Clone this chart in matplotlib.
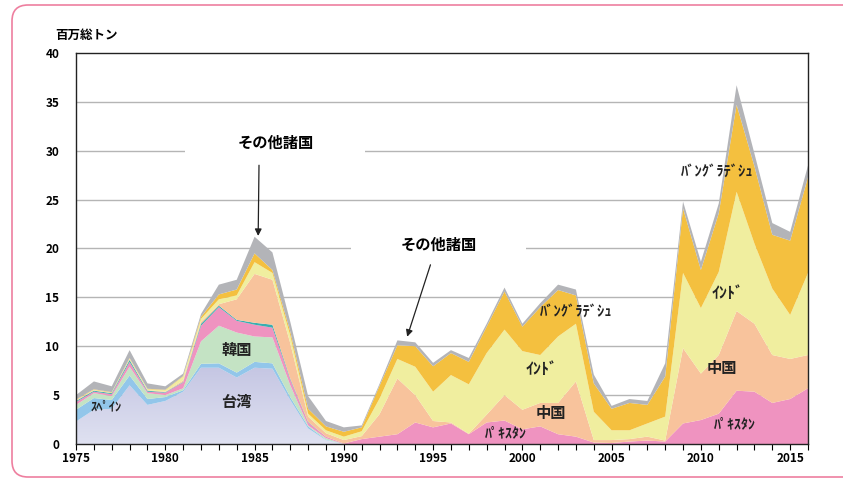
import numpy as np
import matplotlib
matplotlib.use('Agg')
import matplotlib.pyplot as plt
from matplotlib.patches import FancyBboxPatch, Rectangle
from matplotlib.colors import LinearSegmentedColormap

plt.rcParams['font.family'] = ['Noto Sans CJK JP', 'DejaVu Sans']

years = list(range(1975, 2017))

# 百万総トン, layer values (not cumulative)
taiwan = [2.3, 3.5, 3.6, 6.0, 4.0, 4.4, 5.35, 7.8, 7.8, 6.8, 7.8, 7.7, 4.5, 1.6, 0.4,
          0, 0, 0, 0, 0, 0, 0, 0, 0, 0, 0, 0, 0, 0, 0, 0, 0, 0, 0, 0, 0, 0, 0, 0, 0, 0, 0]
spain = [1.2, 1.2, 0.9, 1.0, 0.6, 0.4, 0.15, 0.4, 0.45, 0.5, 0.6, 0.55, 0.3, 0.2, 0.05,
         0, 0, 0, 0, 0, 0, 0, 0, 0, 0, 0, 0, 0, 0, 0, 0, 0, 0, 0, 0, 0, 0, 0, 0, 0, 0, 0]
korea = [0.5, 0.5, 0.4, 0.9, 0.6, 0.2, 0.2, 2.3, 3.85, 4.1, 2.6, 2.65, 1.2, 0.1, 0.15,
         0, 0, 0, 0, 0, 0, 0, 0, 0, 0, 0, 0, 0, 0, 0, 0, 0, 0, 0, 0, 0, 0, 0, 0, 0, 0, 0]
pakistan = [0.3, 0.15, 0.2, 0.5, 0.15, 0.25, 0.6, 1.6, 1.9, 1.2, 1.2, 1.0, 0.6, 0.3, 0.15,
            0.05, 0.5, 0.75, 1.0, 2.2, 1.7, 2.1, 1.0, 2.2, 2.4, 1.5, 1.8, 1.0, 0.75, 0.15,
            0.1, 0.25, 0.35, 0.25, 2.1, 2.45, 3.1, 5.45, 5.35, 4.2, 4.6, 5.7]
others_teal = [0.1, 0.1, 0.1, 0.2, 0.1, 0.05, 0.05, 0.2, 0.15, 0.1, 0.2, 0.3, 0.1, 0.05, 0,
               0, 0, 0, 0, 0, 0, 0, 0, 0, 0, 0, 0, 0, 0, 0, 0, 0, 0, 0, 0, 0, 0, 0, 0, 0, 0, 0]
china = [0.05, 0.05, 0, 0.05, 0.05, 0.05, 0.15, 0.2, 0.15, 2.1, 5.0, 4.6, 3.6, 0.55, 0.35,
         0.35, 0.3, 2.3, 5.7, 2.8, 0.65, 0.1, 0.05, 0.8, 2.6, 2.0, 2.4, 3.2, 5.65, 0.25,
         0.3, 0.25, 0.4, 0.1, 7.7, 4.75, 6.0, 8.15, 6.95, 4.9, 4.1, 3.4]
india = [0.05, 0.05, 0.05, 0.1, 0.1, 0.15, 0.4, 0.3, 0.5, 0.4, 1.2, 0.7, 0.8, 0.3, 0.3,
         0.35, 0.5, 1.6, 2.0, 2.9, 3.0, 4.85, 5.05, 6.3, 6.7, 6.0, 4.9, 6.8, 5.9, 2.9,
         1.0, 0.9, 1.35, 2.45, 7.7, 6.7, 8.5, 12.2, 8.2, 6.8, 4.5, 8.4]
bangladesh = [0.05, 0.05, 0.05, 0.05, 0.05, 0.05, 0.05, 0.2, 0.5, 0.6, 0.9, 0.3, 0.4, 0.5, 0.4,
              0.5, 0.4, 1.3, 1.4, 2.1, 2.6, 2.25, 2.3, 2.7, 3.9, 2.5, 4.9, 4.75, 2.9, 2.9,
              2.2, 2.8, 1.9, 4.1, 6.6, 3.9, 6.0, 8.9, 7.9, 5.5, 7.6, 9.8]
others = [0.45, 0.8, 0.6, 0.8, 0.55, 0.35, 0.25, 0.3, 1.0, 1.0, 1.7, 1.8, 1.0, 1.3, 0.55,
          0.45, 0.2, 0.2, 0.5, 0.4, 0.35, 0.3, 0.4, 0.3, 0.4, 0.3, 0.4, 0.55, 0.6, 0.9,
          0.3, 0.4, 0.4, 1.35, 0.7, 0.85, 1.0, 2.0, 1.3, 1.2, 0.9, 1.2]

layers = [taiwan, spain, korea, pakistan, others_teal, china, india, bangladesh, others]
colors = ['none', '#92c6ea', '#c4e3c4', '#ef93c0', '#3aaeb0', '#f8c39c', '#f0ee9f', '#f4c03f', '#b3b4b8']

fig = plt.figure(figsize=(8.43, 4.79), dpi=100)
# pink rounded frame
fig.patches.append(FancyBboxPatch((0.12, 0.02), 8.6, 4.72, boxstyle='round,pad=0,rounding_size=0.16',
                                  transform=fig.dpi_scale_trans, facecolor='white',
                                  edgecolor='#ee7f9f', linewidth=1.2, zorder=-1))
ax = fig.add_axes([0.0902, 0.0731, 0.8683, 0.8163])
ax.set_facecolor('none')

x = np.array(years)
bottom = np.zeros(len(years))
for vals, c in zip(layers, colors):
    top = bottom + np.array(vals)
    poly = ax.fill_between(x, bottom, top, facecolor=c, linewidth=0, zorder=2)
    if c == 'none':
        # 台湾: soft vertical gradient clipped to the area
        cmap = LinearSegmentedColormap.from_list('tw', ['#dfe1f1', '#c3c4e2'])
        grad = np.linspace(0, 1, 256).reshape(-1, 1)
        img = ax.imshow(grad, extent=[1975, 2016, 0, 8.5], origin='lower', aspect='auto',
                        cmap=cmap, zorder=2)
        img.set_clip_path(poly.get_paths()[0], transform=ax.transData)
    bottom = top

for yv in range(5, 40, 5):
    ax.axhline(yv, color='#b5b5b5', linewidth=1.0, zorder=0)

# white boxes behind labels (break the gridlines)
ax.add_patch(Rectangle((1981.1, 26.5), 10.1, 6.0, facecolor='white', edgecolor='none', zorder=1))
ax.add_patch(Rectangle((1990.4, 17.5), 9.8, 5.5, facecolor='white', edgecolor='none', zorder=1))

ax.set_xlim(1975, 2016)
ax.set_ylim(0, 40)
ax.set_xticks(range(1975, 2016, 5))
ax.set_xticks(range(1975, 2017), minor=True)
ax.set_yticks(range(0, 41, 5))
ax.tick_params(axis='x', which='both', direction='out', length=4, width=0.8, labelsize=8.5, pad=2)
ax.tick_params(axis='y', length=0, labelsize=8.5, pad=12)
for lab in ax.get_xticklabels() + ax.get_yticklabels():
    lab.set_fontweight('bold')
for s in ax.spines.values():
    s.set_linewidth(1.0)
    s.set_color('#222222')
    s.set_zorder(5)

fig.text(0.065, 0.918, '百万総トン', fontsize=9, fontweight='bold')

# annotations
ax.annotate('', xy=(1985.2, 21.0), xytext=(1985.25, 28.8),
            arrowprops=dict(arrowstyle='-|>', color='#222222', lw=0.9, mutation_scale=10), zorder=6)
ax.text(1986.2, 30.8, 'その他諸国', fontsize=11, ha='center', va='center', fontweight='bold', zorder=6)
ax.annotate('', xy=(1993.5, 10.7), xytext=(1994.9, 18.6),
            arrowprops=dict(arrowstyle='-|>', color='#222222', lw=0.9, mutation_scale=10), zorder=6)
ax.text(1995.3, 20.4, 'その他諸国', fontsize=11, ha='center', va='center', fontweight='bold', zorder=6)

labels = [
    ('台湾', 1984.0, 4.3, 11),
    ('韓国', 1984.0, 9.6, 11),
    ('ｽﾍﾟｲﾝ', 1976.7, 3.8, 9),
    ('ﾊﾞﾝｸﾞﾗﾃﾞｼｭ', 2003.0, 13.6, 10.5),
    ('ｲﾝﾄﾞ', 2001.1, 7.7, 11.5),
    ('中国', 2001.6, 3.2, 11),
    ('ﾊﾟｷｽﾀﾝ', 1999.1, 1.1, 10),
    ('ﾊﾞﾝｸﾞﾗﾃﾞｼｭ', 2010.9, 28.0, 10.5),
    ('ｲﾝﾄﾞ', 2011.5, 15.4, 11.5),
    ('中国', 2011.2, 7.8, 11),
    ('ﾊﾟｷｽﾀﾝ', 2011.9, 2.0, 10),
]
for txt, lx, ly, fs in labels:
    ax.text(lx, ly, txt, fontsize=fs, ha='center', va='center', fontweight='bold', color='#222222', zorder=6)

plt.savefig('out.png', dpi=100)
